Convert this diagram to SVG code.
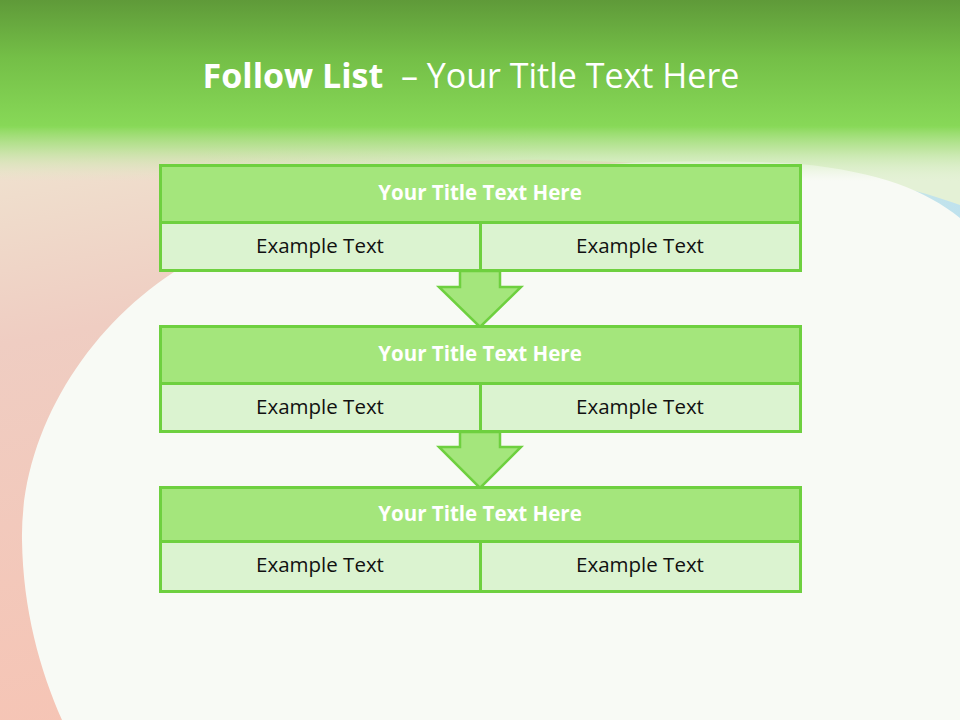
<svg xmlns="http://www.w3.org/2000/svg" width="960" height="720" viewBox="0 0 960 720">
<defs>
<linearGradient id="top" x1="0" y1="0" x2="0" y2="1">
<stop offset="0" stop-color="#5f9a39"/>
<stop offset="0.45" stop-color="#74bf47"/>
<stop offset="1" stop-color="#88d958"/>
</linearGradient>
<linearGradient id="fade" x1="0" y1="0" x2="0" y2="1">
<stop offset="0" stop-color="#88d958" stop-opacity="1"/>
<stop offset="0.4" stop-color="#b2e28e" stop-opacity="0.8"/>
<stop offset="1" stop-color="#dcefc8" stop-opacity="0"/>
</linearGradient>
<linearGradient id="left" x1="0" y1="0" x2="0.25" y2="1">
<stop offset="0" stop-color="#eef3d8"/>
<stop offset="0.2" stop-color="#efe2cf"/>
<stop offset="0.45" stop-color="#efcdc2"/>
<stop offset="1" stop-color="#f6c4b4"/>
</linearGradient>
<linearGradient id="rt" x1="0" y1="0" x2="1" y2="0">
<stop offset="0" stop-color="#e4f1d6" stop-opacity="0"/>
<stop offset="0.45" stop-color="#e4f1d6" stop-opacity="1"/>
<stop offset="1" stop-color="#e4f1d6" stop-opacity="1"/>
</linearGradient>
<linearGradient id="blue" x1="0" y1="0" x2="1" y2="0">
<stop offset="0" stop-color="#d6ebd6"/>
<stop offset="1" stop-color="#bfe2ee"/>
</linearGradient>
<style>
.t{fill:#a4e67c;stroke:#6ed03f;stroke-width:3}
.s{fill:#dbf3d0;stroke:#6ed03f;stroke-width:3}
.ar{fill:#a4e67c;stroke:#6ed03f;stroke-width:2.5;stroke-linejoin:miter}
.tt{font-family:"Open Sans","Noto Sans",sans-serif;font-weight:bold;font-size:20.5px;fill:#ffffff;text-anchor:middle}
.et{font-family:"Open Sans","Noto Sans",sans-serif;font-size:20.5px;fill:#111111;text-anchor:middle}
</style>
</defs>
<rect x="0" y="0" width="960" height="720" fill="url(#left)"/>
<path d="M200,120 L960,120 L960,230 C880,190 760,165 560,160 C420,158 300,175 200,200 Z" fill="url(#rt)"/>
<path d="M760,165 C850,172 920,190 960,205 L960,262 C920,230 880,200 820,182 Z" fill="url(#blue)"/>
<path d="M960,218 C925,190 880,172 800,164 C560,150 330,190 190,262 C90,320 20,430 22,540 C23,610 40,670 62,720 L960,720 Z" fill="#f8faf5"/>
<rect x="0" y="0" width="960" height="128" fill="url(#top)"/>
<rect x="0" y="126" width="960" height="55" fill="url(#fade)"/>
<text x="471" y="88" font-family="'Open Sans','Noto Sans',sans-serif" font-size="34" fill="#ffffff" text-anchor="middle" xml:space="preserve"><tspan font-weight="bold">Follow List</tspan>  – Your Title Text Here</text>
<g id="connectors">
<path class="ar" d="M460,271 L500,271 L500,287 L521,287 L480,327 L439,287 L460,287 Z"/>
<path class="ar" d="M460,432 L500,432 L500,447 L521,447 L480,488 L439,447 L460,447 Z"/>
</g>
<g id="box1">
<rect class="t" x="160.5" y="165.5" width="640" height="57"/>
<rect class="s" x="160.5" y="222.5" width="320" height="48"/>
<rect class="s" x="480.5" y="222.5" width="320" height="48"/>
<text class="tt" x="480" y="200">Your Title Text Here</text>
<text class="et" x="320" y="253">Example Text</text>
<text class="et" x="640" y="253">Example Text</text>
</g>
<g id="box2">
<rect class="t" x="160.5" y="326.5" width="640" height="57"/>
<rect class="s" x="160.5" y="383.5" width="320" height="48"/>
<rect class="s" x="480.5" y="383.5" width="320" height="48"/>
<text class="tt" x="480" y="361">Your Title Text Here</text>
<text class="et" x="320" y="414">Example Text</text>
<text class="et" x="640" y="414">Example Text</text>
</g>
<g id="box3">
<rect class="t" x="160.5" y="487.5" width="640" height="54"/>
<rect class="s" x="160.5" y="541.5" width="320" height="50"/>
<rect class="s" x="480.5" y="541.5" width="320" height="50"/>
<text class="tt" x="480" y="521">Your Title Text Here</text>
<text class="et" x="320" y="572">Example Text</text>
<text class="et" x="640" y="572">Example Text</text>
</g>
</svg>
